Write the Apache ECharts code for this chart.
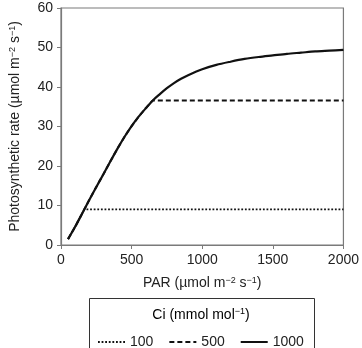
<!DOCTYPE html>
<html>
<head>
<meta charset="utf-8">
<script src="https://cdn.jsdelivr.net/npm/echarts@6/dist/echarts.min.js"></script>
<style>
  html, body { margin: 0; padding: 0; background: #fff; }
  #chart { width: 362px; height: 348px; }
</style>
</head>
<body>
<div id="chart"></div>
<script>
  // PAR values (x) and photosynthetic rate for Ci = 1000
  var par = [50, 100, 150, 200, 250, 300, 350, 400, 450, 500, 550, 600, 650, 700, 750, 800, 850,
             900, 1000, 1100, 1200, 1300, 1400, 1500, 1600, 1700, 1800, 1900, 2000];
  var rate1000 = [1.5, 4.6, 8.0, 11.4, 14.7, 17.9, 21.2, 24.4, 27.4, 30.1, 32.5, 34.6, 36.6, 38.2, 39.7, 41.0, 42.1,
                  43.0, 44.5, 45.6, 46.4, 47.1, 47.6, 48.0, 48.4, 48.7, 49.0, 49.2, 49.4];
  // Ci = 500 : follows the light-limited part, then flat
  var par500 = [50, 100, 150, 200, 250, 300, 350, 400, 450, 500, 550, 600, 650, 2000];
  var rate500 = [1.5, 4.6, 8.0, 11.4, 14.7, 17.9, 21.2, 24.4, 27.4, 30.1, 32.5, 34.6, 36.6, 36.6];
  // Ci = 100
  var par100 = [50, 100, 150, 165, 2000];
  var rate100 = [1.5, 4.6, 8.0, 9.0, 9.0];

  var ciLabels = ['100', '500', '1000'];
  var xTicks = [0, 2000, 500];   // min, max, interval
  var yTicks = [0, 60, 10];

  function pairs(xs, ys) {
    var out = [];
    for (var i = 0; i < xs.length; i++) out.push([xs[i], ys[i]]);
    return out;
  }

  var font = 'Liberation Sans, Arial, sans-serif';
  var axisGray = '#7a7a7a';
  var supRich = {
    sup: { fontSize: 9, lineHeight: 9, verticalAlign: 'top', fontFamily: font, color: '#222' },
    n: { fontSize: 14, lineHeight: 15, fontFamily: font, color: '#222' }
  };

  var chart = echarts.init(document.getElementById('chart'));

  var axisCommon = {
    type: 'value',
    axisLine: { show: true, lineStyle: { color: axisGray, width: 1.2 } },
    axisTick: { show: true, inside: false, length: 4, lineStyle: { color: axisGray } },
    axisLabel: {
      color: '#222', fontSize: 14, fontFamily: font, margin: 8,
      formatter: function (v) { return String(v); }
    },
    splitLine: { show: false },
    nameLocation: 'middle',
    nameTextStyle: { rich: supRich }
  };

  var option = {
    animation: false,
    backgroundColor: '#fff',
    grid: {
      left: 57, right: 15, top: 8, bottom: 103,
      show: true, borderColor: axisGray, borderWidth: 1.2
    },
    xAxis: Object.assign({}, axisCommon, {
      min: xTicks[0], max: xTicks[1], interval: xTicks[2],
      name: '{n|PAR (µmol m}{sup|−2}{n| s}{sup|−1}{n|)}',
      nameGap: 31
    }),
    yAxis: Object.assign({}, axisCommon, {
      min: yTicks[0], max: yTicks[1], interval: yTicks[2],
      name: '{n|Photosynthetic rate (µmol m}{sup|−2}{n| s}{sup|−1}{n|)}',
      nameGap: 38,
      nameRotate: 90
    }),
    legend: {
      data: ciLabels,
      left: 92, top: 330,
      itemWidth: 27, itemHeight: 12, itemGap: 15,
      itemStyle: { opacity: 0 },
      textStyle: { color: '#222', fontSize: 14, fontFamily: font }
    },
    graphic: [
      {
        type: 'rect',
        shape: { x: 89.5, y: 298.5, width: 225, height: 60 },
        style: { fill: 'none', stroke: '#333', lineWidth: 1 },
        z: 1
      },
      {
        type: 'text',
        x: 201, y: 315,
        style: {
          text: '{n|Ci (mmol mol}{sup|−1}{n|)}',
          rich: supRich,
          align: 'center', verticalAlign: 'middle'
        }
      }
    ],
    series: [
      {
        name: ciLabels[0], type: 'line', symbol: 'none', z: 2,
        data: pairs(par100, rate100),
        lineStyle: { color: '#111', width: 1.8, type: [1.8, 1.8] },
        itemStyle: { color: '#111' }
      },
      {
        name: ciLabels[1], type: 'line', symbol: 'none', z: 3,
        data: pairs(par500, rate500),
        lineStyle: { color: '#111', width: 2, type: [5, 3] },
        itemStyle: { color: '#111' }
      },
      {
        name: ciLabels[2], type: 'line', symbol: 'none', z: 4, smooth: 0.3,
        data: pairs(par, rate1000),
        lineStyle: { color: '#111', width: 2.2, type: 'solid' },
        itemStyle: { color: '#111' }
      }
    ]
  };

  chart.setOption(option);
</script>
</body>
</html>
